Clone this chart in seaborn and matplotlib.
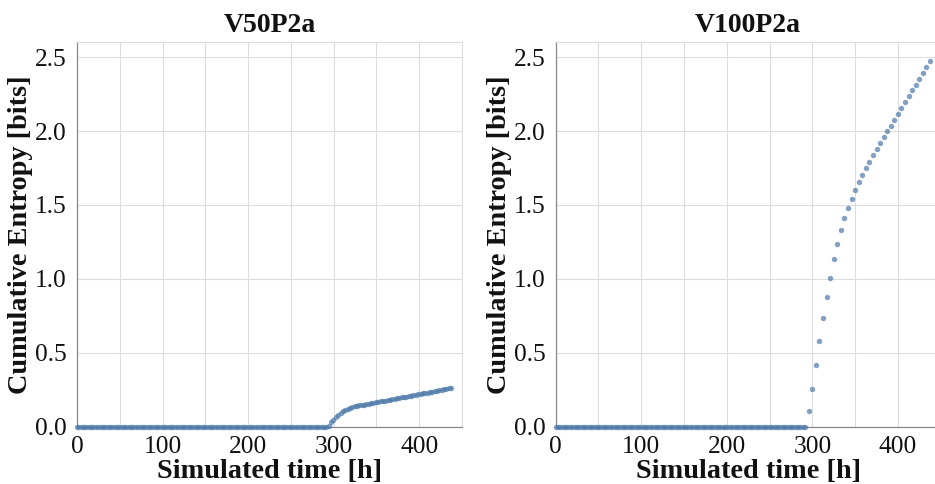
import numpy as np
import pandas as pd
import matplotlib
matplotlib.use("Agg")
import matplotlib.pyplot as plt
import seaborn as sns

# ---------------- data ----------------
panel_titles = ["V50P2a", "V100P2a"]
x_label = "Simulated time [h]"
y_label = "Cumulative Entropy [bits]"
x_ticks = [0, 100, 200, 300, 400]
y_ticks = [0.0, 0.5, 1.0, 1.5, 2.0, 2.5]

# V50P2a: flat part then a gentle rise
v50_time_flat = np.arange(0, 292, 2.75)
v50_entropy_flat = np.zeros(len(v50_time_flat))
v50_time_rise = np.arange(294.25, 438, 2.75)
v50_entropy_rise = [
    0.008, 0.030, 0.048, 0.066, 0.082, 0.095, 0.106, 0.115, 0.122, 0.128,
    0.133, 0.137, 0.141, 0.144, 0.147, 0.150, 0.153, 0.156, 0.159, 0.162,
    0.165, 0.168, 0.171, 0.174, 0.177, 0.180, 0.183, 0.186, 0.189, 0.192,
    0.195, 0.198, 0.201, 0.204, 0.207, 0.210, 0.213, 0.216, 0.219, 0.222,
    0.225, 0.228, 0.231, 0.234, 0.237, 0.240, 0.243, 0.246, 0.249, 0.252,
    0.256, 0.260, 0.264,
]

# V100P2a: flat part then a steep rise
v100_time_flat = np.arange(0, 292, 2.75)
v100_entropy_flat = np.zeros(len(v100_time_flat))
v100_time_rise = np.arange(295.8, 438, 4.1667)
v100_entropy_rise = [
    0.104, 0.257, 0.419, 0.581, 0.734, 0.878, 1.009, 1.131, 1.237, 1.331,
    1.412, 1.482, 1.543, 1.599, 1.653, 1.705, 1.750, 1.793, 1.836, 1.876,
    1.917, 1.957, 1.998, 2.036, 2.074, 2.115, 2.155, 2.194, 2.234, 2.275,
    2.313, 2.354, 2.395, 2.432, 2.473,
]

n50 = min(len(v50_time_rise), len(v50_entropy_rise))
n100 = min(len(v100_time_rise), len(v100_entropy_rise))
df50 = pd.DataFrame({
    "time": np.concatenate([v50_time_flat, v50_time_rise[:n50]]),
    "entropy": np.concatenate([v50_entropy_flat, v50_entropy_rise[:n50]]),
})
df100 = pd.DataFrame({
    "time": np.concatenate([v100_time_flat, v100_time_rise[:n100]]),
    "entropy": np.concatenate([v100_entropy_flat, v100_entropy_rise[:n100]]),
})

# ---------------- style ----------------
sns.set_style("white")
plt.rcParams["font.family"] = ["Liberation Serif", "DejaVu Serif"]

W, H = 935, 484
fig = plt.figure(figsize=(W / 100, H / 100), dpi=100)

ax_w, ax_h = 385, 384.4
ax_bottom = 484 - 426.7
lefts = [77, 555.7]
POINT_COLOR = "#4c78a8"

for left, df, title in zip(lefts, [df50, df100], panel_titles):
    ax = fig.add_axes([left / W, ax_bottom / H, ax_w / W, ax_h / H])
    sns.scatterplot(data=df, x="time", y="entropy", ax=ax, color=POINT_COLOR,
                    alpha=0.7, s=15, linewidth=0, zorder=3, clip_on=False)
    ax.set_xlim(0, 450)
    ax.set_ylim(0, 2.6)
    ax.set_xticks(np.arange(0, 451, 50))
    ax.set_xticklabels([str(int(v)) if v in x_ticks else "" for v in np.arange(0, 451, 50)])
    ax.set_yticks(y_ticks)
    ax.set_yticklabels([f"{v:.1f}" for v in y_ticks])
    ax.grid(True, color="#dddddd", linewidth=0.8)
    ax.set_axisbelow(True)
    for side in ["left", "bottom"]:
        ax.spines[side].set_color("#888888")
        ax.spines[side].set_linewidth(0.9)
    for side in ["top", "right"]:
        ax.spines[side].set_color("#dddddd")
        ax.spines[side].set_linewidth(0.8)
    ax.tick_params(axis="both", which="both", direction="out", length=4.3,
                   width=0.8, color="#888888", labelsize=18.4, labelcolor="#111111")
    ax.tick_params(axis="x", pad=2.5)
    ax.tick_params(axis="y", pad=3)
    ax.set_xlabel(x_label, fontsize=20.3, fontweight="bold", color="#111111")
    ax.xaxis.set_label_coords(0.5, -0.083)
    ax.set_ylabel(y_label, fontsize=20.3, fontweight="bold", color="#111111")
    ax.yaxis.set_label_coords(-0.113, 0.5)
    ax.set_title(title, fontsize=20, fontweight="bold", color="#111111", pad=7.6)

fig.savefig("out.png", dpi=100)
